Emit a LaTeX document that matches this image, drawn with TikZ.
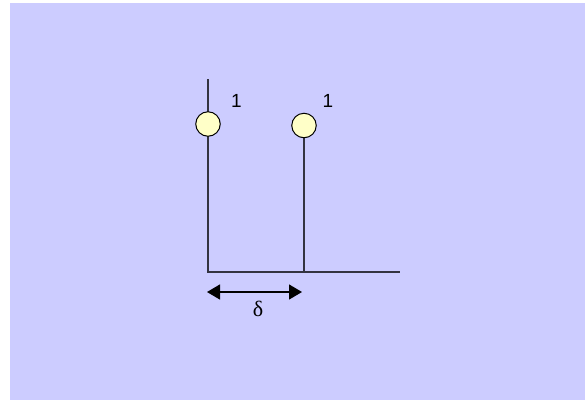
\documentclass[tikz,border=0pt]{standalone}
\usepackage{fontspec}
\setmainfont{Liberation Sans}
\newfontfamily\greekfont{Liberation Serif}
\usetikzlibrary{arrows.meta}

\definecolor{panel}{HTML}{CCCCFF}
\definecolor{ballfill}{HTML}{FFFFC8}
\definecolor{rod}{HTML}{333340}

\newcommand{\wtsize}{\fontsize{19pt}{22pt}\selectfont}
\newcommand{\dltsize}{\greekfont\fontsize{22pt}{25pt}\selectfont}

\tikzset{
  ball/.style={circle, draw=black, line width=1pt, fill=ballfill,
    minimum size=24.5pt, inner sep=0pt},
  rodline/.style={draw=rod, line width=1.3pt},
  weight/.style={inner sep=0pt}
}

\begin{document}
\begin{tikzpicture}[x=1pt, y=-1pt]
  \useasboundingbox (0,0) rectangle (585,400);
  \fill[panel] (10,3) rectangle (585,400);

  \coordinate (top) at (208,79);
  \coordinate (corner) at (208,272);
  \coordinate (foot) at (304,272);
  \coordinate (far) at (400,272);
  \draw[rodline] (top) -- (corner) -- (far);
  \draw[rodline] (foot) -- (304,125);

  \node[ball] (ballA) at (208,124) {};
  \node[ball] (ballB) at (304,125.5) {};
  \node[weight] (wA) at (236.5,101) {\wtsize 1};
  \node[weight] (wB) at (328,101) {\wtsize 1};

  \coordinate (arrL) at (207,292);
  \coordinate (arrR) at (302,292);
  \draw[line width=1.3pt, {Triangle[length=13pt,width=15pt]}-{Triangle[length=13pt,width=15pt]}]
    (arrL) -- (arrR);
  \node[inner sep=0pt] (delta) at (258,309) {\dltsize δ};
\end{tikzpicture}
\end{document}
